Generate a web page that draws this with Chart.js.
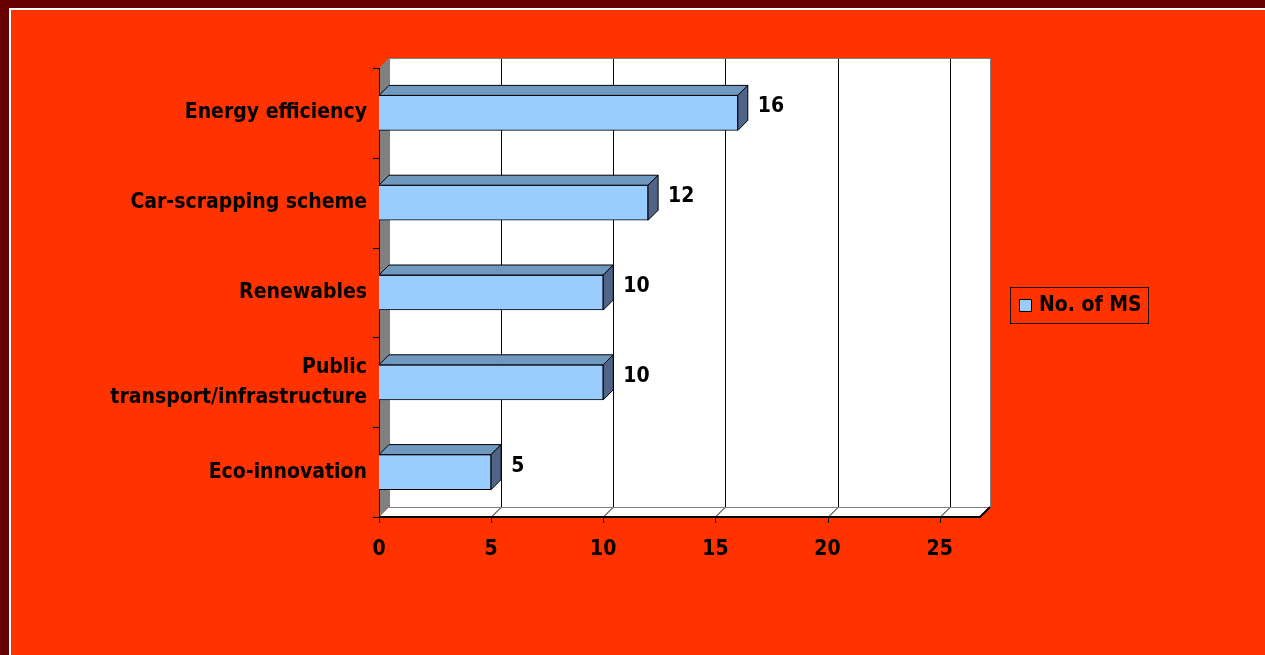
<!DOCTYPE html>
<html>
    <head>
        <title>No. of MS</title>
        <meta charset="UTF-8">
        <script src="https://cdn.jsdelivr.net/npm/chart.js@4.4.1/dist/chart.umd.min.js"></script>
        <style>
            html, body { margin: 0; padding: 0; width: 1265px; height: 655px; overflow: hidden; background: #660000; }
            .frame { position: absolute; left: 9px; top: 8px; width: 1280px; height: 670px; background: #ff3300; border-left: 2px solid #fff; border-top: 2px solid #fff; }
            #wrap { position: absolute; left: 0; top: 0; width: 1265px; height: 655px; }
        </style>
    </head>
    <body>
        <div class="frame"></div>
        <div id="wrap"><canvas id="msChart"></canvas></div>

        <script>
            // data
            const categories = ['Energy efficiency', 'Car-scrapping scheme', 'Renewables', ['Public', 'transport/infrastructure'], 'Eco-innovation'];
            const msCounts = [16, 12, 10, 10, 5];
            const xTicks = [0, 5, 10, 15, 20, 25];
            const seriesName = 'No. of MS';

            const FONT = "'DejaVu Sans Condensed', 'DejaVu Sans', sans-serif";
            const DEPTH = 10;

            // fake 3d walls, floor, bar faces, value labels and legend box
            const threeD = {
                id: 'threeD',
                beforeDatasetsDraw(chart) {
                    const ctx = chart.ctx;
                    const {left, right, top, bottom} = chart.chartArea;
                    const x = chart.scales.x, y = chart.scales.y;
                    const d = DEPTH;
                    ctx.save();
                    // back wall
                    ctx.fillStyle = '#fff';
                    ctx.fillRect(left + d, top - d, right - left, bottom - top);
                    // floor
                    ctx.beginPath();
                    ctx.moveTo(left, bottom); ctx.lineTo(right, bottom);
                    ctx.lineTo(right + d, bottom - d); ctx.lineTo(left + d, bottom - d);
                    ctx.closePath(); ctx.fill();
                    // side wall
                    ctx.fillStyle = '#808080';
                    ctx.beginPath();
                    ctx.moveTo(left, top); ctx.lineTo(left + d, top - d);
                    ctx.lineTo(left + d, bottom - d); ctx.lineTo(left, bottom);
                    ctx.closePath(); ctx.fill();
                    // grid lines on wall + floor
                    ctx.strokeStyle = '#000';
                    ctx.lineWidth = 1;
                    x.ticks.forEach(t => {
                        if (t.value === 0) return;
                        const px = Math.round(x.getPixelForValue(t.value)) + 0.5;
                        ctx.beginPath();
                        ctx.moveTo(px + d, top - d); ctx.lineTo(px + d, bottom - d);
                        ctx.moveTo(px, bottom); ctx.lineTo(px + d, bottom - d);
                        ctx.stroke();
                    });
                    // wall / floor outlines
                    ctx.strokeStyle = '#808080';
                    ctx.strokeRect(left + d + 0.5, top - d + 0.5, right - left, bottom - top);
                    ctx.beginPath();
                    ctx.moveTo(left + d, bottom - d + 0.5); ctx.lineTo(right + d, bottom - d + 0.5);
                    ctx.stroke();
                    // front axis + slant at the end
                    ctx.strokeStyle = '#000';
                    ctx.lineWidth = 2;
                    ctx.beginPath();
                    ctx.moveTo(left, bottom); ctx.lineTo(right, bottom); ctx.lineTo(right + d, bottom - d);
                    ctx.stroke();
                    ctx.lineWidth = 1;
                    ctx.beginPath();
                    ctx.moveTo(left + 0.5, top); ctx.lineTo(left + 0.5, bottom);
                    x.ticks.forEach(t => {
                        const px = Math.round(x.getPixelForValue(t.value)) + 0.5;
                        ctx.moveTo(px, bottom); ctx.lineTo(px, bottom + 6);
                    });
                    for (let k = 0; k <= categories.length; k++) {
                        const py = Math.round(y.getPixelForValue(k - 0.5)) + 0.5;
                        ctx.moveTo(left - 6, py); ctx.lineTo(left, py);
                    }
                    ctx.stroke();
                    ctx.restore();
                },
                afterDatasetsDraw(chart) {
                    const ctx = chart.ctx;
                    const d = DEPTH;
                    const meta = chart.getDatasetMeta(0);
                    ctx.save();
                    ctx.strokeStyle = '#000';
                    ctx.lineWidth = 1;
                    meta.data.forEach((bar, i) => {
                        const {x, y, base, height} = bar.getProps(['x', 'y', 'base', 'height'], true);
                        const t = y - height / 2, b = y + height / 2;
                        // top face
                        ctx.fillStyle = '#7099c0';
                        ctx.beginPath();
                        ctx.moveTo(base, t); ctx.lineTo(base + d, t - d);
                        ctx.lineTo(x + d, t - d); ctx.lineTo(x, t);
                        ctx.closePath(); ctx.fill(); ctx.stroke();
                        // side face
                        ctx.fillStyle = '#506488';
                        ctx.beginPath();
                        ctx.moveTo(x, t); ctx.lineTo(x + d, t - d);
                        ctx.lineTo(x + d, b - d); ctx.lineTo(x, b);
                        ctx.closePath(); ctx.fill(); ctx.stroke();
                        // value
                        ctx.fillStyle = '#000';
                        ctx.font = 'bold 21px ' + FONT;
                        ctx.textAlign = 'left';
                        ctx.textBaseline = 'middle';
                        ctx.fillText(String(msCounts[i]), x + d + 10, y - d / 2 - 1);
                    });
                    ctx.restore();
                },
                afterDraw(chart) {
                    const ctx = chart.ctx;
                    const ds = chart.data.datasets[0];
                    ctx.save();
                    ctx.strokeStyle = '#200000';
                    ctx.lineWidth = 1;
                    ctx.strokeRect(1010.5, 287.5, 138, 36);
                    ctx.fillStyle = ds.backgroundColor;
                    ctx.fillRect(1019.5, 299.5, 12, 12);
                    ctx.strokeStyle = '#000';
                    ctx.strokeRect(1019.5, 299.5, 12, 12);
                    ctx.fillStyle = '#000';
                    ctx.font = 'bold 21px ' + FONT;
                    ctx.textBaseline = 'middle';
                    ctx.fillText(ds.label, 1039, 306);
                    ctx.restore();
                }
            };

            const ctx = document.getElementById('msChart').getContext('2d');
            const chart = new Chart(ctx, {
                type: 'bar',
                data: {
                    labels: categories,
                    datasets: [{
                        label: seriesName,
                        data: msCounts,
                        backgroundColor: '#99ccff',
                        borderColor: '#000',
                        borderWidth: 1,
                        barThickness: 35
                    }]
                },
                options: {
                    indexAxis: 'y',
                    responsive: true,
                    maintainAspectRatio: false,
                    animation: false,
                    layout: { padding: { left: 0, top: 68, right: 285, bottom: 78 } },
                    plugins: {
                        legend: { display: false },
                        tooltip: { enabled: false }
                    },
                    scales: {
                        x: {
                            min: 0,
                            max: 26.8,
                            afterBuildTicks: s => { s.ticks = xTicks.map(v => ({ value: v })); },
                            afterFit: s => { s.height = 60; },
                            grid: { display: false, drawTicks: false },
                            border: { display: false },
                            ticks: { color: '#000', padding: 20, font: { family: FONT, size: 21, weight: 'bold' } }
                        },
                        y: {
                            afterFit: s => { s.width = 379; },
                            grid: { display: false, drawTicks: false },
                            border: { display: false },
                            ticks: { color: '#000', padding: 12, font: { family: FONT, size: 21, weight: 'bold', lineHeight: 1.45 } }
                        }
                    }
                },
                plugins: [threeD]
            });
        </script>
    </body>
</html>
